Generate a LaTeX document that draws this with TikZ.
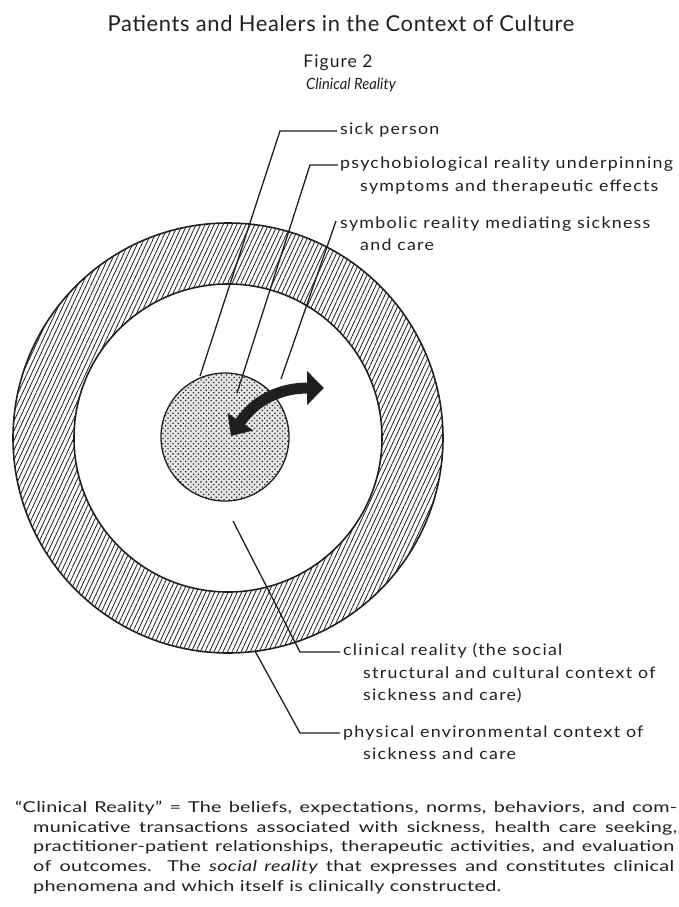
\documentclass[tikz,border=0pt]{standalone}
\usepackage{fontspec}
\setmainfont{Lato}
\newfontfamily\labfont[LetterSpace=8,FakeStretch=1.12]{Lato}
\newfontfamily\parfont[LetterSpace=2,FakeStretch=1.32]{Lato}
\newfontfamily\titfont[LetterSpace=3]{Lato}
\newfontfamily\figfont[LetterSpace=6]{Lato}
\newfontfamily\subfont[FakeStretch=0.95]{Lato}
\usetikzlibrary{patterns.meta,arrows.meta}
\definecolor{ink}{gray}{0.12}
\begin{document}
\begin{tikzpicture}[x=1pt,y=-1pt,
  every node/.style={inner sep=0pt, text=ink},
  lab/.style={anchor=base west, font=\labfont\fontsize{15.9}{19}\selectfont},
  par/.style={anchor=base west, font=\parfont\fontsize{15}{18}\selectfont},
  leader/.style={draw=ink, line width=1.3pt, line join=miter},
  ring/.style={draw=ink, line width=1.6pt}]
\useasboundingbox (0,0) rectangle (678,907);

% titles
\node[anchor=base, font=\titfont\fontsize{21.9}{25}\selectfont] (title) at (341,32) {Patients and Healers in the Context of Culture};
\node[anchor=base, font=\figfont\fontsize{17.5}{20}\selectfont] (fig) at (338,67) {Figure 2};
\node[anchor=base, font=\subfont\itshape\fontsize{15.5}{18}\selectfont] (sub) at (351,89) {Clinical Reality};

% rings
\coordinate (c) at (228,438);
\path[pattern={Lines[angle=65,distance=4.1pt,line width=0.8pt]}, pattern color=ink, even odd rule]
  (c) circle[radius=215pt] (c) circle[radius=154pt];
\draw[ring] (c) circle[radius=215pt];
\draw[ring] (c) circle[radius=154pt];
\coordinate (d) at (225,437);
\fill[gray!20] (d) circle[radius=64pt];
\fill[pattern={Dots[angle=45,distance=3.6pt,radius=0.9pt]}, pattern color=ink] (d) circle[radius=64pt];
\draw[draw=ink, line width=1.3pt] (d) circle[radius=64pt];

% labels
\node[lab] (sick) at (340,134) {sick person};
\node[lab] (psyA) at (340,168) {psychobiological reality underpinning};
\node[lab] (psyB) at (360,191) {symptoms and therapeutic effects};
\node[lab] (symA) at (340,228) {symbolic reality mediating sickness};
\node[lab] (symB) at (360,250) {and care};
\node[lab] (cliA) at (343,655) {clinical reality (the social};
\node[lab] (cliB) at (363,678) {structural and cultural context of};
\node[lab] (cliC) at (363,700) {sickness and care)};
\node[lab] (phyA) at (343,737) {physical environmental context of};
\node[lab] (phyB) at (363,759) {sickness and care};

% leader points
\coordinate (s0) at (200,376); \coordinate (s1) at (280,131); \coordinate (s2) at (337,131);
\coordinate (p0) at (237,393); \coordinate (p1) at (310,165); \coordinate (p2) at (338,165);
\coordinate (m0) at (281,379); \coordinate (m1) at (336,221);
\coordinate (k0) at (233,521); \coordinate (k1) at (300,652); \coordinate (k2) at (340,652);
\coordinate (h0) at (255,651); \coordinate (h1) at (300,733); \coordinate (h2) at (340,733);

\draw[leader] (s0) -- (s1) -- (s2);
\draw[leader] (p0) -- (p1) -- (p2);
\draw[leader] (m0) -- (m1);
\draw[leader] (k0) -- (k1) -- (k2);
\draw[leader] (h0) -- (h1) -- (h2);

% curved double arrow
\coordinate (a0) at (231,436); \coordinate (a1) at (324,388);
\draw[ink, line width=11pt, {Triangle[length=17pt,width=30pt]}-{Triangle[length=17pt,width=33pt]}]
  (a0) .. controls (255,400) and (280,388) .. (a1);

% paragraph
\node[par] (q1) at (15,812) {\makebox[662pt][s]{“Clinical Reality” = The beliefs, expectations, norms, behaviors, and com-}};
\node[par] (q2) at (33,832) {\makebox[644pt][s]{municative transactions associated with sickness, health care seeking,}};
\node[par] (q3) at (33,851) {\makebox[641pt][s]{practitioner-patient relationships, therapeutic activities, and evaluation}};
\node[par] (q4) at (33,871) {\makebox[641pt][s]{of outcomes. The {\itshape social reality} that expresses and constitutes clinical}};
\node[par] (q5) at (33,891) {phenomena and which itself is clinically constructed.};
\end{tikzpicture}
\end{document}
